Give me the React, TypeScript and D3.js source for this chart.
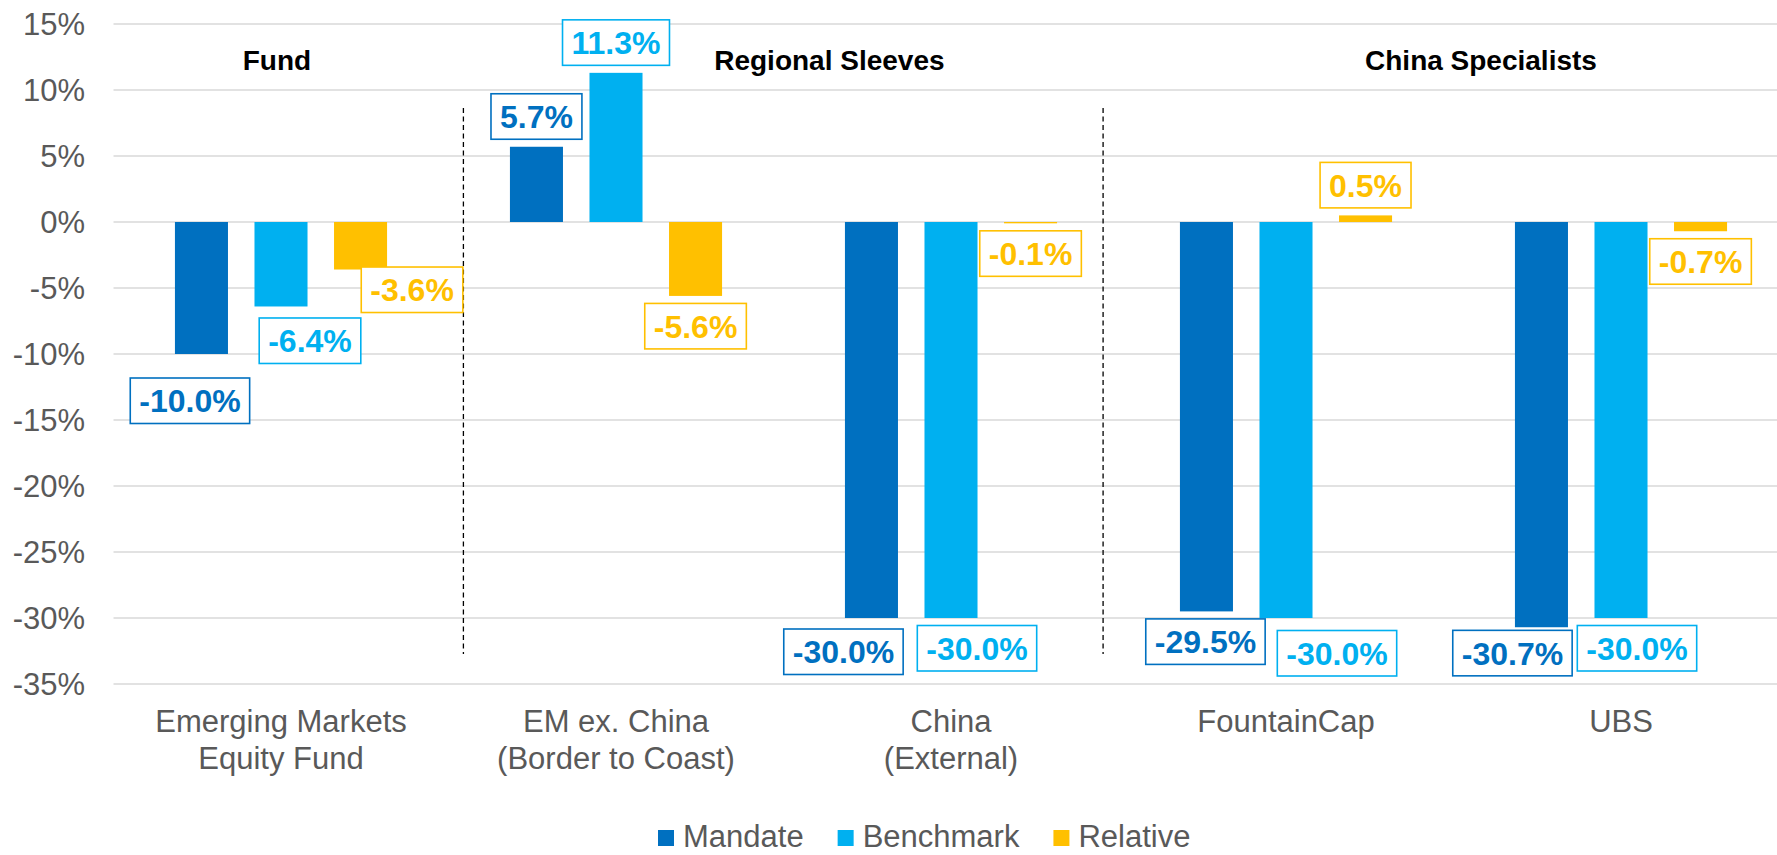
import React from "react";
import * as d3 from "d3";

const W = 1777;
const H = 855;
const FONT = "'Liberation Sans', Arial, Helvetica, sans-serif";

// ---- data ----
const categories: string[][] = [
  ["Emerging Markets", "Equity Fund"],
  ["EM ex. China", "(Border to Coast)"],
  ["China", "(External)"],
  ["FountainCap"],
  ["UBS"],
];
const seriesNames = ["Mandate", "Benchmark", "Relative"];
const mandate = [-10.0, 5.7, -30.0, -29.5, -30.7];
const benchmark = [-6.4, 11.3, -30.0, -30.0, -30.0];
const relative = [-3.6, -5.6, -0.1, 0.5, -0.7];
const yTicks = [15, 10, 5, 0, -5, -10, -15, -20, -25, -30, -35];
const groupHeaders = ["Fund", "Regional Sleeves", "China Specialists"];

// ---- layout (not data) ----
const colors = ["#0070C0", "#00B0F0", "#FFC000"];
const headerPos = [0.488, 2.137, 4.082]; // in category units
const separatorPos = [1.0445, 2.954]; // in category units
// manual data label nudges [dx, dy] per series per category
const labelNudge: number[][][] = [
  [[-11.5, 16.5], [0, 0], [-28, 3.5], [-1, 0], [-29, -4.4]],
  [[29, 4], [0, 0], [26, 0], [51, 5], [16, 0]],
  [[51.5, -10], [0, 0], [0, 0], [0, 0], [0, 0]],
];

const ctx = document.createElement("canvas").getContext("2d")!;
function textWidth(t: string, font: string) {
  ctx.font = font;
  return ctx.measureText(t).width;
}

export default function App() {
  const seriesValues = [mandate, benchmark, relative];
  const left = 113.5;
  const right = 1788.5;
  const x = d3
    .scaleBand<number>()
    .domain(d3.range(categories.length))
    .range([left, right])
    .paddingInner(0)
    .paddingOuter(0);
  const catUnit = d3.scaleLinear().domain([0, categories.length]).range([left, right]);
  const y = d3.scaleLinear().domain([-35, 15]).range([684, 24]);
  const barW = x.bandwidth() * 0.1583;
  const x1 = d3
    .scaleBand<string>()
    .domain(seriesNames)
    .range([0, 4 * barW])
    .paddingInner(1 / 3)
    .paddingOuter(0);
  const groupOffset = (x.bandwidth() - 4 * barW) / 2;

  const labelFont = `bold 32px ${FONT}`;
  const boxH = 45.5;
  const gap = 7.5;

  const legendFont = `31px ${FONT}`;
  let lx = 658;
  const legendItems = seriesNames.map((s, i) => {
    const item = { s, i, x: lx };
    lx += 16 + 9 + textWidth(s, legendFont) + 34;
    return item;
  });

  return (
    <svg
      width={W}
      height={H}
      style={{ position: "fixed", left: 0, top: 0, background: "#fff", fontFamily: FONT }}
    >
      <rect x={0} y={0} width={W} height={H} fill="#fff" />
      {/* gridlines */}
      {yTicks.map((t) => (
        <line
          key={"g" + t}
          x1={left}
          x2={right}
          y1={y(t)}
          y2={y(t)}
          stroke="#d9d9d9"
          strokeWidth={1.5}
        />
      ))}
      {/* y tick labels */}
      {yTicks.map((t) => (
        <text
          key={"t" + t}
          x={85}
          y={y(t)}
          dy="0.36em"
          textAnchor="end"
          fontSize={31}
          fill="#595959"
        >
          {`${t}%`}
        </text>
      ))}
      {/* separators */}
      {separatorPos.map((p, i) => (
        <line
          key={"s" + i}
          x1={catUnit(p)}
          x2={catUnit(p)}
          y1={108}
          y2={654}
          stroke="#000"
          strokeWidth={1.3}
          strokeDasharray="5,3.5"
        />
      ))}
      {/* headers */}
      {groupHeaders.map((h, i) => (
        <text
          key={"h" + i}
          x={catUnit(headerPos[i])}
          y={70}
          textAnchor="middle"
          fontSize={28}
          fontWeight="bold"
          fill="#000"
        >
          {h}
        </text>
      ))}
      {/* bars */}
      {seriesValues.map((vals, si) =>
        vals.map((v, ci) => {
          const bx = (x(ci) as number) + groupOffset + (x1(seriesNames[si]) as number);
          const y0 = y(0);
          const yv = y(v);
          return (
            <rect
              key={`b${si}-${ci}`}
              x={bx}
              y={Math.min(y0, yv)}
              width={x1.bandwidth()}
              height={Math.max(Math.abs(yv - y0), 0.8)}
              fill={colors[si]}
            />
          );
        })
      )}
      {/* data labels */}
      {seriesValues.map((vals, si) =>
        vals.map((v, ci) => {
          const txt = `${v.toFixed(1)}%`;
          const bw = textWidth(txt, labelFont) + 18;
          const cx =
            (x(ci) as number) +
            groupOffset +
            (x1(seriesNames[si]) as number) +
            x1.bandwidth() / 2 +
            labelNudge[si][ci][0];
          const top =
            (v >= 0 ? y(v) - gap - boxH : y(v) + gap) + labelNudge[si][ci][1];
          return (
            <g key={`l${si}-${ci}`}>
              <rect
                x={cx - bw / 2}
                y={top}
                width={bw}
                height={boxH}
                fill="#fff"
                stroke={colors[si]}
                strokeWidth={1.6}
              />
              <text
                x={cx}
                y={top + boxH / 2 + 11.5}
                textAnchor="middle"
                fontSize={32}
                fontWeight="bold"
                fill={colors[si]}
              >
                {txt}
              </text>
            </g>
          );
        })
      )}
      {/* category labels */}
      {categories.map((lines, ci) => (
        <text
          key={"c" + ci}
          x={(x(ci) as number) + x.bandwidth() / 2}
          y={732}
          textAnchor="middle"
          fontSize={31}
          fill="#595959"
        >
          {lines.map((ln, li) => (
            <tspan key={li} x={(x(ci) as number) + x.bandwidth() / 2} dy={li === 0 ? 0 : 37}>
              {ln}
            </tspan>
          ))}
        </text>
      ))}
      {/* legend */}
      {legendItems.map((it) => (
        <g key={"lg" + it.i}>
          <rect x={it.x} y={830} width={16} height={16} fill={colors[it.i]} />
          <text x={it.x + 25} y={847} fontSize={31} fill="#595959">
            {it.s}
          </text>
        </g>
      ))}
    </svg>
  );
}
